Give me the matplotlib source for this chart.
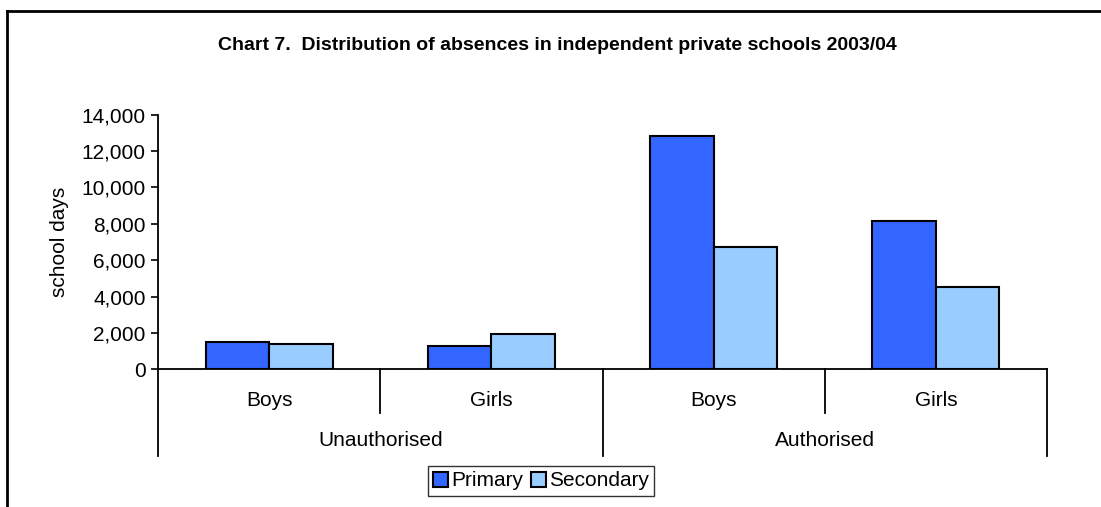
import matplotlib
matplotlib.use("Agg")
import matplotlib.pyplot as plt
from matplotlib.lines import Line2D
from matplotlib.ticker import FuncFormatter
import numpy as np

plt.rcParams['font.family'] = ['Liberation Sans', 'DejaVu Sans']

title = "Chart 7.  Distribution of absences in independent private schools 2003/04"
categories = ["Boys", "Girls", "Boys", "Girls"]
groups = ["Unauthorised", "Authorised"]
primary = [1520, 1260, 12840, 8170]
secondary = [1370, 1920, 6720, 4510]
series_names = ["Primary", "Secondary"]
colors = ["#3366FF", "#99CCFF"]
yticks = [0, 2000, 4000, 6000, 8000, 10000, 12000, 14000]

FS = 15
W, H = 1101, 507
fig = plt.figure(figsize=(W / 100, H / 100), dpi=100)
fig.patch.set_facecolor("white")

x0, x1 = 158, 1047
y0, y1 = 369.3, 114.7
ax = fig.add_axes([x0 / W, (H - y0) / H, (x1 - x0) / W, (y0 - y1) / H])
axh = y0 - y1

x = np.arange(len(categories))
w = 1 / 3.5
ax.bar(x - w / 2, primary, width=w, color=colors[0], edgecolor="black", linewidth=1.5, label=series_names[0], zorder=3)
ax.bar(x + w / 2, secondary, width=w, color=colors[1], edgecolor="black", linewidth=1.5, label=series_names[1], zorder=3)

ax.set_xlim(-0.5, len(categories) - 0.5)
ax.set_ylim(0, 14000)
ax.set_yticks(yticks)
ax.yaxis.set_major_formatter(FuncFormatter(lambda v, p: f"{int(v):,}"))
ax.tick_params(axis="y", direction="out", length=5, width=1.2, labelsize=FS, pad=4, color="black")
ax.set_xticks([])
for s in ["top", "right"]:
    ax.spines[s].set_visible(False)
for s in ["left", "bottom"]:
    ax.spines[s].set_linewidth(1.3)
ax.set_ylabel("school days", fontsize=FS)
ax.yaxis.set_label_coords((69 - x0) / (x1 - x0), 0.5)

tr = ax.get_xaxis_transform()
def fy(py):
    return (y0 - py) / axh

for xs in [0.5, 2.5]:
    ax.add_line(Line2D([xs, xs], [0, fy(413)], transform=tr, color="black", lw=1.3, clip_on=False))
for xs in [-0.5, 1.5, 3.5]:
    ax.add_line(Line2D([xs, xs], [0, fy(456)], transform=tr, color="black", lw=1.3, clip_on=False))

for i, c in enumerate(categories):
    ax.text(i, fy(400), c, transform=tr, ha="center", va="center", fontsize=FS)
for j, g in enumerate(groups):
    ax.text(0.5 + 2 * j, fy(440.5), g, transform=tr, ha="center", va="center", fontsize=FS)

fig.text(557 / W, 1 - 46 / H, title, ha="center", va="center", fontsize=14, fontweight="bold")

fig.add_artist(Line2D([7 / W, 7 / W], [0, 1 - 11 / H], transform=fig.transFigure, color="black", lw=2))
fig.add_artist(Line2D([7 / W, 1], [1 - 11 / H, 1 - 11 / H], transform=fig.transFigure, color="black", lw=2))

leg = fig.legend(loc="center", bbox_to_anchor=(541 / W, 1 - 481 / H), ncol=2, fontsize=FS,
                 frameon=True, fancybox=False, edgecolor="black", handlelength=0.7, handleheight=0.7,
                 handletextpad=0.15, columnspacing=0.4, borderpad=0.25, borderaxespad=0)
leg.get_frame().set_linewidth(1.0)

fig.savefig("out.png", dpi=100, facecolor="white")
